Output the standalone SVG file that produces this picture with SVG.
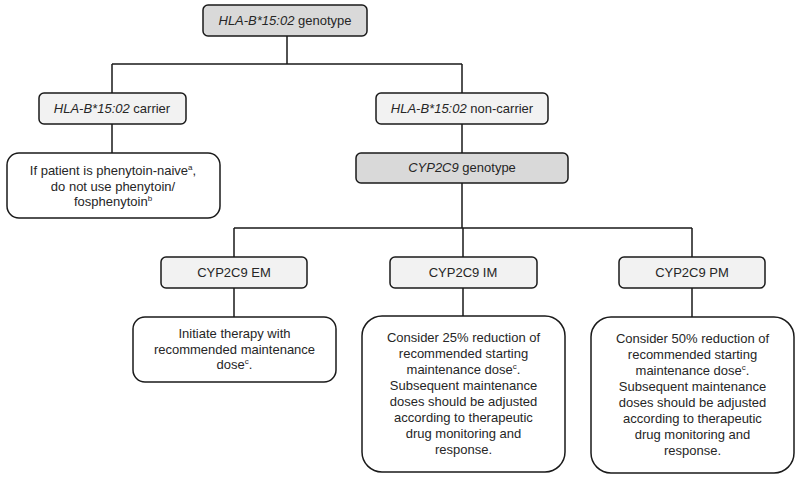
<svg xmlns="http://www.w3.org/2000/svg" width="800" height="479" viewBox="0 0 800 479">
<style>
.box{stroke:#1a1a1a;stroke-width:1.5}
.dark{fill:#d9d9d9}
.light{fill:#f2f2f2}
.white{fill:#ffffff}
text{font-family:"Liberation Sans",Arial,sans-serif;font-size:13px;fill:#262626;text-anchor:middle}
.it{font-style:italic}
.sup{font-size:8px}
.conn{stroke:#1a1a1a;stroke-width:1.5;fill:none}
</style>
<rect width="800" height="479" fill="#ffffff"/>
<g id="connectors">
<path class="conn" d="M287,36 V64 M112,64 H462 M112,64 V93 M462,64 V93 M112,124 V153 M462,124 V153 M462,183 V228 M234,228 H692 M234,228 V257 M463,228 V257 M692,228 V257 M234,288 V317 M463,288 V316 M692,288 V317"/>
</g>
<g id="hla-genotype">
<rect class="box dark" x="203" y="5" width="164" height="31" rx="5"/>
<text x="285" y="25"><tspan class="it">HLA-B*15:02</tspan> genotype</text>
</g>
<g id="hla-carrier">
<rect class="box light" x="39" y="93" width="147" height="31" rx="5"/>
<text x="112" y="113"><tspan class="it">HLA-B*15:02</tspan> carrier</text>
</g>
<g id="carrier-advice">
<rect class="box white" x="7" y="153" width="213" height="65" rx="12"/>
<text x="113" y="175">If patient is phenytoin-naive<tspan class="sup" dy="-5">a</tspan><tspan dy="5">,</tspan></text>
<text x="113" y="191">do not use phenytoin/</text>
<text x="113" y="206">fosphenytoin<tspan class="sup" dy="-5">b</tspan></text>
</g>
<g id="hla-noncarrier">
<rect class="box light" x="376" y="93" width="172" height="31" rx="5"/>
<text x="462" y="113"><tspan class="it">HLA-B*15:02</tspan> non-carrier</text>
</g>
<g id="cyp-genotype">
<rect class="box dark" x="356" y="153" width="212" height="30" rx="5"/>
<text x="462" y="172"><tspan class="it">CYP2C9</tspan> genotype</text>
</g>
<g id="cyp-em">
<rect class="box light" x="161" y="257" width="146" height="31" rx="5"/>
<text x="234" y="277">CYP2C9 EM</text>
</g>
<g id="em-advice">
<rect class="box white" x="133" y="317" width="203" height="65" rx="12"/>
<text x="234.5" y="338">Initiate therapy with</text>
<text x="234.5" y="354">recommended maintenance</text>
<text x="234.5" y="369">dose<tspan class="sup" dy="-5">c</tspan><tspan dy="5">.</tspan></text>
</g>
<g id="cyp-im">
<rect class="box light" x="390" y="257" width="147" height="31" rx="5"/>
<text x="463" y="277">CYP2C9 IM</text>
</g>
<g id="im-advice">
<rect class="box white" x="362" y="316" width="203" height="156" rx="20"/>
<text x="463.5" y="342">Consider 25% reduction of</text>
<text x="463.5" y="358">recommended starting</text>
<text x="463.5" y="374">maintenance dose<tspan class="sup" dy="-5">c</tspan><tspan dy="5">.</tspan></text>
<text x="463.5" y="390">Subsequent maintenance</text>
<text x="463.5" y="406">doses should be adjusted</text>
<text x="463.5" y="422">according to therapeutic</text>
<text x="463.5" y="438">drug monitoring and</text>
<text x="463.5" y="454">response.</text>
</g>
<g id="cyp-pm">
<rect class="box light" x="619" y="257" width="146" height="31" rx="5"/>
<text x="692" y="277">CYP2C9 PM</text>
</g>
<g id="pm-advice">
<rect class="box white" x="591" y="317" width="203" height="156" rx="20"/>
<text x="692.5" y="343">Consider 50% reduction of</text>
<text x="692.5" y="359">recommended starting</text>
<text x="692.5" y="375">maintenance dose<tspan class="sup" dy="-5">c</tspan><tspan dy="5">.</tspan></text>
<text x="692.5" y="391">Subsequent maintenance</text>
<text x="692.5" y="407">doses should be adjusted</text>
<text x="692.5" y="423">according to therapeutic</text>
<text x="692.5" y="439">drug monitoring and</text>
<text x="692.5" y="455">response.</text>
</g>
</svg>
